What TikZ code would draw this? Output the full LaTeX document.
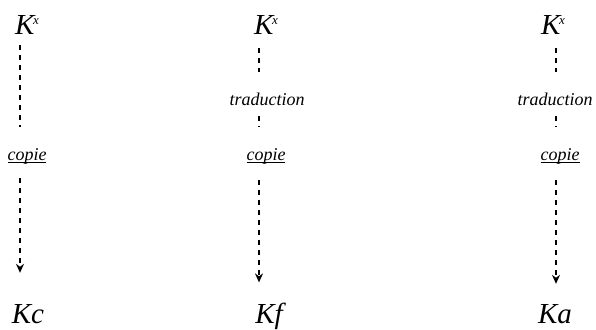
\documentclass[tikz,border=0pt]{standalone}
\usepackage{fontspec}
\setmainfont{Liberation Serif}
\usepackage{tikz}
\usetikzlibrary{arrows.meta}

\newcommand{\souligne}[1]{\setbox0\hbox{#1}\leavevmode\rlap{\rule[-2.9pt]{\wd0}{1.4pt}}\box0}
\newcommand{\Kexp}{K\kern-1.5pt\raisebox{10.5pt}{\fontsize{13}{13}\selectfont x}}

\begin{document}
\begin{tikzpicture}[x=1pt,y=-1pt,>={Stealth[length=9pt,width=8pt,inset=3pt]}]

    \tikzstyle{grand}=[font=\fontsize{29}{29}\selectfont\itshape, inner sep=0pt, anchor=base]
    \tikzstyle{petit}=[font=\fontsize{18}{18}\selectfont\itshape, inner sep=0pt, anchor=base]
    \tikzstyle{lien}=[line width=1.4pt, dash pattern=on 5pt off 5pt]

    \useasboundingbox (0,0) rectangle (596,329);

    % axes des trois colonnes
    \coordinate (c1) at (20,0);
    \coordinate (c2) at (259,0);
    \coordinate (c3) at (556,0);

    \node[grand] (kx1) at (27,35)  {\Kexp};
    \node[petit] (cp1) at (27,160) {\souligne{copie}};
    \node[grand] (kc)  at (28,323) {Kc};

    \node[grand] (kx2) at (266,35)  {\Kexp};
    \node[petit] (tr2) at (267,105) {traduction};
    \node[petit] (cp2) at (266,160) {\souligne{copie}};
    \node[grand] (kf)  at (269,323) {Kf};

    \node[grand] (kx3) at (553,35)  {\Kexp};
    \node[petit] (tr3) at (555,105) {traduction};
    \node[petit] (cp3) at (560,160) {\souligne{copie}};
    \node[grand] (ka)  at (555,323) {Ka};

    \draw[lien, shorten <=10pt, shorten >=21pt] (c1 |- kx1.south) -- (c1 |- cp1.north);
    \draw[lien, ->, shorten <=14pt, shorten >=31pt] (c1 |- cp1.south) -- (c1 |- kc.north);

    \draw[lien, shorten <=13pt, shorten >=20pt] (c2 |- kx2.south) -- (c2 |- tr2.north);
    \draw[lien, shorten <=11pt, shorten >=21pt] (c2 |- tr2.south) -- (c2 |- cp2.north);
    \draw[lien, ->, shorten <=16pt, shorten >=20pt] (c2 |- cp2.south) -- (c2 |- kf.north);

    \draw[lien, shorten <=13pt, shorten >=20pt] (c3 |- kx3.south) -- (c3 |- tr3.north);
    \draw[lien, shorten <=11pt, shorten >=21pt] (c3 |- tr3.south) -- (c3 |- cp3.north);
    \draw[lien, ->, shorten <=16pt, shorten >=20pt] (c3 |- cp3.south) -- (c3 |- ka.north);

\end{tikzpicture}
\end{document}
